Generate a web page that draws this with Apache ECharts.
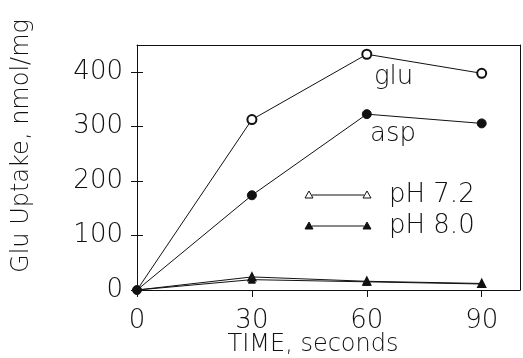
<!DOCTYPE html>
<html>
<head>
<meta charset="utf-8">
<script src="https://cdn.jsdelivr.net/npm/echarts@6/dist/echarts.min.js"></script>
<style>
  html, body { margin: 0; padding: 0; background: #fff; }
  #chart { width: 523px; height: 358px; }
</style>
</head>
<body>
<div id="chart"></div>
<script>
// data
const times = [0, 30, 60, 90];
const gluValues = [0, 313, 433, 398];
const aspValues = [0, 174, 323, 306];
const ph72Values = [0, 24, 16, 12];
const ph80Values = [0, 19, 15, 11];
const xTicks = [0, 30, 60, 90];
const yTicks = [0, 100, 200, 300, 400];

const FONT = '"DejaVu Sans", sans-serif';
const INK = '#111';

const chart = echarts.init(document.getElementById('chart'));

// first point of every series except asp hides its symbol (only the filled dot shows at 0)
function pairs(values, hideFirst) {
  return times.map((t, i) => {
    if (i === 0 && hideFirst) return { value: [t, values[i]], symbol: 'none' };
    return [t, values[i]];
  });
}

function lineSeries(name, values, symbol, size, hideFirst) {
  return {
    name: name,
    type: 'line',
    xAxisIndex: 0,
    yAxisIndex: 0,
    data: pairs(values, hideFirst),
    symbol: symbol,
    symbolSize: size,
    showAllSymbol: true,
    lineStyle: { color: INK, width: 1 },
    itemStyle: { color: INK, borderColor: INK, borderWidth: 1 },
    z: 3
  };
}

const tickLabel = { fontFamily: FONT, fontSize: 26, fontWeight: 200, color: INK };

// legend key: line with triangle at each end
function legendKey(y, filled, label) {
  const tri = x => ({
    type: 'polygon',
    shape: { points: [[x, y - 4], [x + 4, y + 3], [x - 4, y + 3]] },
    style: { fill: filled ? INK : '#fff', stroke: INK, lineWidth: 1 }
  });
  return [
    { type: 'line', shape: { x1: 312, y1: y, x2: 364, y2: y }, style: { stroke: INK, lineWidth: 1 } },
    tri(309), tri(367),
    { type: 'text', x: 389, y: y, style: { text: label, font: '200 26px ' + FONT, fill: INK, textVerticalAlign: 'middle' } }
  ];
}

const option = {
  animation: false,
  grid: { left: 137, right: 3, top: 45, bottom: 68 },
  xAxis: [
    {
      type: 'value', min: 0, max: 100, position: 'bottom',
      axisLine: { show: true, onZero: false, lineStyle: { color: INK, width: 1 } },
      axisTick: { show: true, length: 7, customValues: xTicks, lineStyle: { color: INK } },
      axisLabel: Object.assign({ margin: 31, customValues: xTicks, verticalAlign: 'middle' }, tickLabel),
      splitLine: { show: false }
    },
    {
      type: 'value', min: 0, max: 100, position: 'top',
      axisLine: { show: true, onZero: false, lineStyle: { color: INK, width: 1 } },
      axisTick: { show: false }, axisLabel: { show: false }, splitLine: { show: false }
    }
  ],
  yAxis: [
    {
      type: 'value', min: 0, max: 450, position: 'left',
      axisLine: { show: true, onZero: false, lineStyle: { color: INK, width: 1 } },
      axisTick: { show: true, length: 6, customValues: yTicks, lineStyle: { color: INK } },
      axisLabel: Object.assign({ margin: 14, customValues: yTicks }, tickLabel),
      splitLine: { show: false }
    },
    {
      // inner half of the crossing y ticks
      type: 'value', min: 0, max: 450, position: 'left',
      axisLine: { show: false, onZero: false },
      axisTick: { show: true, inside: true, length: 6, customValues: yTicks, lineStyle: { color: INK } },
      axisLabel: { show: false }, splitLine: { show: false }
    },
    {
      type: 'value', min: 0, max: 450, position: 'right',
      axisLine: { show: true, onZero: false, lineStyle: { color: INK, width: 1 } },
      axisTick: { show: false }, axisLabel: { show: false }, splitLine: { show: false }
    }
  ],
  graphic: [
    {
      type: 'text', x: 22, y: 146, rotation: Math.PI / 2,
      style: { text: 'Glu Uptake, nmol/mg', font: '200 24px ' + FONT, fill: INK, textAlign: 'center', textVerticalAlign: 'middle' }
    },
    {
      type: 'text', x: 313, y: 345,
      style: { text: 'TIME, seconds', font: '200 24px ' + FONT, fill: INK, textAlign: 'center', textVerticalAlign: 'middle' }
    },
    { type: 'text', x: 374, y: 77, style: { text: 'glu', font: '200 26px ' + FONT, fill: INK, textVerticalAlign: 'middle' } },
    { type: 'text', x: 370, y: 134, style: { text: 'asp', font: '200 26px ' + FONT, fill: INK, textVerticalAlign: 'middle' } }
  ].concat(legendKey(195, false, 'pH 7.2'), legendKey(226, true, 'pH 8.0')),
  series: [
    lineSeries('pH 7.2', ph72Values, 'emptyTriangle', 7, true),
    lineSeries('pH 8.0', ph80Values, 'triangle', 7, true),
    lineSeries('glu', gluValues, 'emptyCircle', 9, true),
    lineSeries('asp', aspValues, 'circle', 9, false)
  ]
};

chart.setOption(option);
window.addEventListener('resize', () => chart.resize());
</script>
</body>
</html>
